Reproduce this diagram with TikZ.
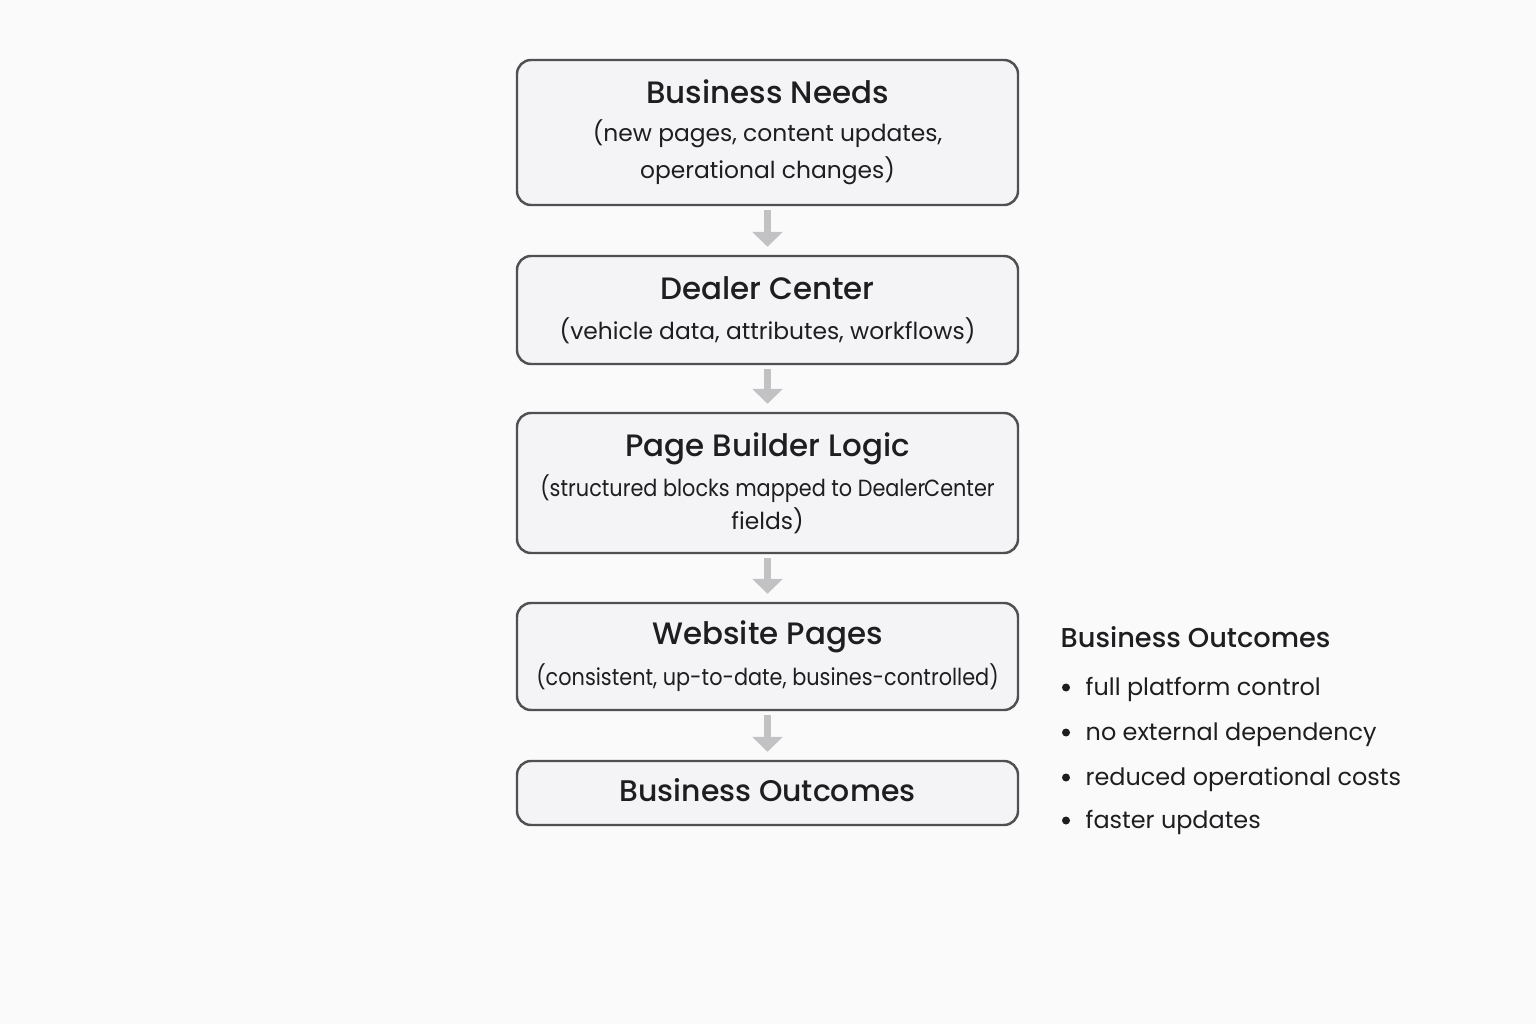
\documentclass[tikz,border=0pt]{standalone}
\usepackage{fontspec}
\setmainfont{Poppins}[BoldFont={Poppins Medium}]
\newfontfamily\narrowfont{Poppins}[FakeStretch=0.89]
\usetikzlibrary{arrows.meta}
\definecolor{bgcol}{HTML}{FBFAFB}
\definecolor{boxfill}{HTML}{F4F4F6}
\definecolor{boxline}{HTML}{505052}
\definecolor{flowgray}{HTML}{C2C2C4}
\definecolor{ink}{HTML}{1E1E20}
\newcommand{\stagetitle}[1]{{\fontsize{8.8}{12}\selectfont\bfseries #1}}
\tikzset{
    stage/.style={draw=boxline, fill=boxfill, line width=0.7pt, rounded corners=0.14cm,
        minimum width=5.01cm, align=center, text=ink, inner sep=0pt,
        font=\fontsize{6.65}{10.5}\selectfont},
    flow/.style={draw=flowgray, line width=0.07cm, -{Triangle[width=0.3cm, length=0.15cm]},
        shorten <=0.04cm, shorten >=0.08cm},
    listtext/.style={anchor=base west, text=ink, inner sep=0pt, font=\fontsize{6.8}{9}\selectfont}
}
\begin{document}
\begin{tikzpicture}
    \fill[bgcol] (0, 0) rectangle (15.36, 10.24);
    \useasboundingbox (0, 0) rectangle (15.36, 10.24);
    \node[stage, minimum height=1.45cm] (needs) at (7.675, 8.915)
        {\stagetitle{Business Needs}\\[0.3pt] (new pages, content updates,\\ operational changes)};
    \node[stage, minimum height=1.08cm] (dealer) at (7.675, 7.14)
        {\stagetitle{Dealer Center}\\[0.8pt] (vehicle data, attributes, workflows)};
    \node[stage, minimum height=1.40cm] (builder) at (7.675, 5.41)
        {\stagetitle{Page Builder Logic}\\[0.9pt] {\narrowfont (structured blocks mapped to Dealer\kern-0.3pt Center}\\[-1.1pt] fields)};
    \node[stage, minimum height=1.07cm] (pages) at (7.675, 3.675)
        {\stagetitle{Website Pages}\\[1.1pt] {\narrowfont (consistent, up-to-date, busines-controlled)}};
    \node[stage, minimum height=0.64cm] (outcomes) at (7.675, 2.31)
        {\raisebox{1.5pt}{\fontsize{8.5}{12}\selectfont\bfseries Business Outcomes}};
    \foreach \a/\b in {needs/dealer, dealer/builder, builder/pages, pages/outcomes}{
        \draw[flow] (\a.south) -- (\b.north);
    }
    \node[listtext, font=\fontsize{7.75}{9}\selectfont\bfseries] (summary) at (10.60, 3.77) {Business Outcomes};
    \foreach \y/\txt [count=\i] in {3.29/full platform control, 2.84/no external dependency,
        2.39/reduced operational costs, 1.96/faster updates}{
        \fill[ink] (10.66, \y + 0.075) circle (0.04);
        \node[listtext] (item\i) at (10.85, \y) {\txt};
    }
\end{tikzpicture}
\end{document}
